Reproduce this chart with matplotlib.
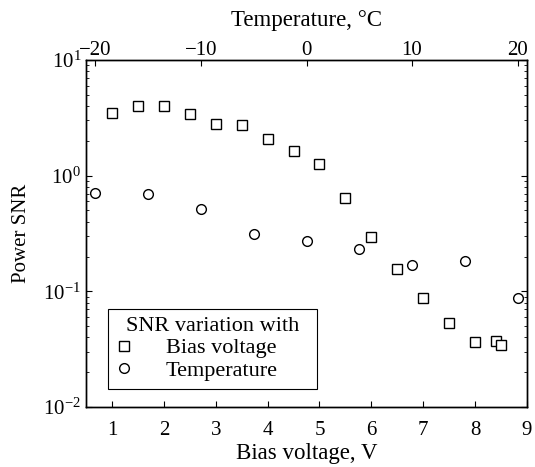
import matplotlib
matplotlib.use("Agg")
import matplotlib.pyplot as plt

# bias voltage sweep (V) and power SNR
bias_v = [1.0, 1.5, 2.0, 2.5, 3.0, 3.5, 4.0, 4.5, 5.0, 5.5, 6.0, 6.5, 7.0, 7.5, 8.0, 8.4, 8.5]
bias_snr = [3.50, 4.0, 4.0, 3.41, 2.78, 2.72, 2.06, 1.64, 1.25, 0.637, 0.296, 0.157,
            0.087, 0.053, 0.0367, 0.0372, 0.0343]

# temperature sweep (deg C) and power SNR
temp_c = [-20, -15, -10, -5, 0, 5, 10, 15, 20]
temp_snr = [0.705, 0.70, 0.515, 0.315, 0.274, 0.234, 0.170, 0.184, 0.087]

bottom_ticks = [1, 2, 3, 4, 5, 6, 7, 8, 9]
top_ticks = [-20, -10, 0, 10, 20]

plt.rcParams["font.family"] = ["Liberation Serif", "DejaVu Serif"]
plt.rcParams["mathtext.fontset"] = "stix"

fig = plt.figure(figsize=(5.35, 4.67), dpi=100)
ax = fig.add_axes([86 / 535, 60 / 467, 441 / 535, 347 / 467])

sq, = ax.plot(bias_v, bias_snr, linestyle="none", marker="s", markersize=6.5,
              markerfacecolor="white", markeredgecolor="black", markeredgewidth=1.0,
              label="Bias voltage")
ax.set_yscale("log")
ax.set_ylim(1e-2, 1e1)
ax.set_xlim(0.5, 9)
ax.set_xticks(bottom_ticks)
ax.set_xlabel("Bias voltage, V", fontsize=16.5, labelpad=2)
ax.set_ylabel("Power SNR", fontsize=15, labelpad=9)
ax.tick_params(axis="both", which="both", direction="in", labelsize=15)
ax.tick_params(axis="y", which="both", right=True)
ax.tick_params(axis="x", pad=10)
ax.tick_params(which="major", length=4, width=0.8)
ax.tick_params(which="minor", length=2.5, width=0.6)

ax2 = ax.twiny()
ci, = ax2.plot(temp_c, temp_snr, linestyle="none", marker="o", markersize=7,
               markerfacecolor="white", markeredgecolor="black", markeredgewidth=1.0,
               label="Temperature")
ax2.set_xlim(-20.9, 20.9)
ax2.set_xticks(top_ticks)
ax2.set_xlabel("Temperature, \u00b0C", fontsize=16.5, labelpad=11)
ax2.tick_params(axis="x", direction="in", labelsize=15, length=4, width=0.8, pad=0)

for a in (ax, ax2):
    for s in a.spines.values():
        s.set_linewidth(1.0)

leg = ax2.legend(handles=[sq, ci], title="SNR variation with", loc="lower left",
                 bbox_to_anchor=(0.05, 0.052, 209 / 441, 0.2), mode="expand",
                 borderaxespad=0, fancybox=False,
                 edgecolor="black", framealpha=1, fontsize=16, title_fontsize=16,
                 handlelength=0.75, handletextpad=1.5, borderpad=0.35,
                 labelspacing=0.1)
leg.get_frame().set_linewidth(0.8)

fig.savefig("out.png", dpi=100)
